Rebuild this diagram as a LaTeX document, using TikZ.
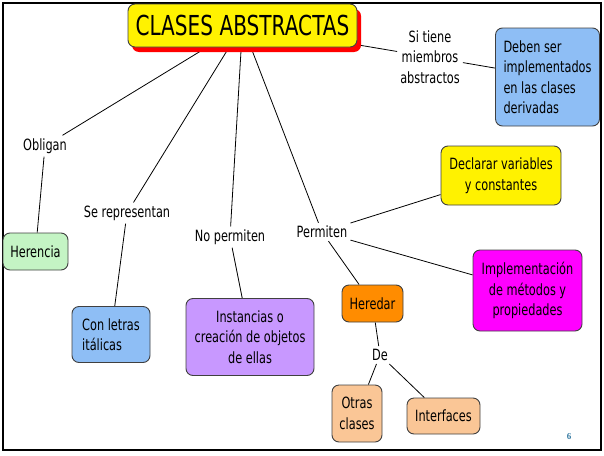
\documentclass[tikz,border=0pt]{standalone}
\usepackage{fontspec}
\setmainfont{DejaVu Sans}[FakeStretch=0.73]
\newfontfamily\numfont{Liberation Serif}
\usetikzlibrary{shadows}
\pgfdeclarelayer{bg}
\pgfsetlayers{bg,main}
\definecolor{azul}{RGB}{142,190,245}
\definecolor{verde}{RGB}{196,244,196}
\definecolor{lila}{RGB}{200,152,255}
\definecolor{naranja}{RGB}{255,140,0}
\definecolor{durazno}{RGB}{250,198,150}
\definecolor{fucsia}{RGB}{255,0,255}
\definecolor{numazul}{RGB}{50,120,160}
\tikzset{
  box/.style={draw=black!75, line width=0.9pt, rounded corners=7pt, inner sep=0pt, align=center},
  enlace/.style={inner sep=3pt, align=center},
}

\begin{document}
\begin{tikzpicture}[x=1pt,y=-1pt,font=\fontsize{15.5}{20.5}\selectfont]
    \useasboundingbox (0,0) rectangle (604,455);
    \draw[line width=1.3pt] (3,3) rectangle (601,450);

    \node[box, fill=yellow, minimum width=229pt, minimum height=43pt, font=\fontsize{27.5}{30}\selectfont,
          drop shadow={fill=red, opacity=1, shadow xshift=4pt, shadow yshift=-5pt}] (abs) at (242.5,25.5) {CLASES ABSTRACTAS};
    \node[enlace] (sit) at (430,57) {Si tiene\\miembros\\abstractos};
    \node[box, fill=azul, minimum width=104pt, minimum height=98pt, align=left] (deb) at (547.5,77) {Deben ser\\implementados\\en las clases\\derivadas};
    \node[enlace] (obl) at (45,146) {Obligan};
    \node[box, fill=verde, minimum width=65pt, minimum height=37pt] (her) at (35.5,251.5) {Herencia};
    \node[enlace] (rep) at (127,213) {Se representan};
    \node[box, fill=azul, minimum width=78pt, minimum height=56pt, align=left] (ita) at (111,334.5) {Con letras\\itálicas};
    \node[enlace] (nop) at (230,237) {No permiten};
    \node[box, fill=lila, minimum width=128pt, minimum height=77pt] (ins) at (250,337) {Instancias o\\creación de objetos\\de ellas};
    \node[enlace] (per) at (322,232) {Permiten};
    \node[box, fill=yellow, minimum width=120pt, minimum height=59pt] (dec) at (501,175.5) {Declarar variables\\y constantes};
    \node[box, fill=fucsia, minimum width=109pt, minimum height=81pt] (imp) at (527.5,290.5) {Implementación\\de métodos y\\propiedades};
    \node[box, fill=naranja, minimum width=61pt, minimum height=37pt] (hed) at (372.5,303.5) {Heredar};
    \node[enlace] (de) at (380,355) {De};
    \node[box, fill=durazno, minimum width=50pt, minimum height=57pt] (otr) at (357,413.5) {Otras\\clases};
    \node[box, fill=durazno, minimum width=73pt, minimum height=36pt] (int) at (443.5,416) {Interfaces};
    \node[text=numazul, font=\numfont\bfseries\fontsize{9}{9}\selectfont] (pag) at (569,437) {6};

    \begin{pgfonlayer}{bg}
    \draw[line width=0.8pt] (abs) edge (obl) edge (rep) edge (nop) edge (per) edge (sit);
    \draw[line width=0.8pt] (sit) edge (deb);
    \draw[line width=0.8pt] (obl) edge (her);
    \draw[line width=0.8pt] (rep) edge (ita);
    \draw[line width=0.8pt] (nop) edge (ins);
    \draw[line width=0.8pt] (per) edge (dec) edge (imp) edge (hed);
    \draw[line width=0.8pt] (hed) edge (de);
    \draw[line width=0.8pt] (de) edge (otr) edge (int);
    \end{pgfonlayer}
\end{tikzpicture}
\end{document}
